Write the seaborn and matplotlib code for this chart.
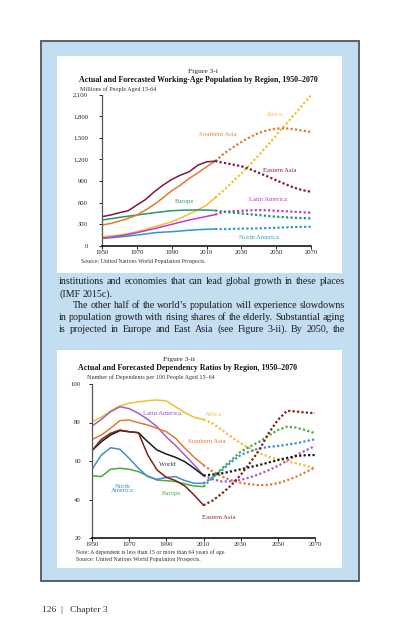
import numpy as np
import pandas as pd
import seaborn as sns
import matplotlib.pyplot as plt
from matplotlib.patches import Rectangle

W, H = 412, 640

# Figure 3-i: working-age population (millions, aged 15-64)
years_hist_1 = list(range(1950, 2016, 5))
years_proj_1 = list(range(2015, 2071, 5))
east_asia_hist_1 = [406, 430, 461, 489, 567, 645, 751, 843, 922, 982, 1028, 1120, 1166, 1177]
east_asia_proj_1 = [1177, 1152, 1130, 1106, 1065, 1014, 965, 912, 860, 811, 775, 751]
south_asia_hist_1 = [290, 313, 346, 383, 429, 498, 576, 668, 765, 843, 935, 1014, 1097, 1177]
south_asia_proj_1 = [1177, 1281, 1365, 1442, 1510, 1567, 1605, 1627, 1632, 1620, 1600, 1580]
africa_hist_1 = [129, 140, 152, 172, 198, 230, 267, 300, 336, 385, 442, 500, 567, 670]
africa_proj_1 = [670, 774, 890, 1005, 1130, 1258, 1395, 1534, 1672, 1811, 1950, 2088]
europe_hist_1 = [360, 378, 397, 413, 429, 445, 461, 475, 489, 495, 498, 500, 498, 492]
europe_proj_1 = [492, 475, 463, 452, 440, 429, 417, 406, 398, 392, 387, 383]
latam_hist_1 = [106, 122, 140, 160, 185, 212, 240, 270, 300, 330, 360, 385, 410, 435]
latam_proj_1 = [435, 475, 482, 488, 494, 498, 495, 488, 482, 475, 468, 461]
namer_hist_1 = [106, 115, 125, 138, 152, 167, 183, 192, 198, 208, 218, 226, 232, 235]
namer_proj_1 = [235, 235, 238, 240, 242, 244, 248, 253, 258, 262, 265, 267]
yticks_1 = [0, 300, 600, 900, 1200, 1500, 1800, 2100]
xticks = [1950, 1970, 1990, 2010, 2030, 2050, 2070]

# Figure 3-ii: dependents per 100 people aged 15-64
years_hist_2 = list(range(1950, 2011, 5))
years_proj_2 = list(range(2010, 2071, 5))
africa_hist_2 = [80.4, 82.7, 86.1, 88.6, 90.0, 90.7, 91.3, 91.7, 91.2, 88.2, 85.1, 82.7, 81.6]
africa_proj_2 = [81.6, 79.5, 76.1, 72.5, 69.2, 66.5, 64.0, 62.3, 60.9, 59.8, 58.8, 57.5, 56.2]
latam_hist_2 = [78.2, 81.6, 85.6, 88.2, 87.2, 84.8, 81.6, 77.8, 72.5, 68.0, 63.0, 58.0, 52.5]
latam_proj_2 = [52.5, 50.5, 49.3, 49.5, 50.1, 51.5, 53.2, 55.2, 57.4, 60.2, 63.1, 65.5, 67.8]
south_asia_hist_2 = [71.2, 73.5, 77.0, 81.0, 81.3, 79.9, 78.7, 77.0, 75.2, 71.8, 66.6, 61.9, 57.9]
south_asia_proj_2 = [57.9, 54.5, 51.9, 50.0, 48.7, 47.9, 47.4, 47.6, 48.4, 50.0, 51.9, 54.2, 56.7]
world_hist_2 = [65.4, 70.0, 73.5, 75.8, 75.2, 74.7, 70.0, 65.7, 63.6, 61.9, 59.6, 56.2, 52.5]
world_proj_2 = [52.5, 53.0, 53.6, 54.6, 55.7, 56.8, 57.9, 59.2, 60.5, 61.6, 62.6, 63.0, 63.1]
east_asia_hist_2 = [65.4, 71.2, 74.4, 76.1, 75.2, 74.7, 63.1, 55.3, 51.5, 49.8, 47.0, 42.3, 37.0]
east_asia_proj_2 = [37.0, 39.5, 43.2, 47.5, 52.7, 59.0, 65.7, 74.4, 81.3, 86.1, 85.7, 85.2, 84.8]
namer_hist_2 = [55.7, 63.1, 66.9, 66.1, 61.4, 56.2, 51.9, 50.5, 51.5, 51.9, 49.8, 48.4, 48.4]
namer_proj_2 = [48.4, 51.5, 55.3, 59.5, 63.1, 65.0, 66.6, 67.3, 67.8, 68.5, 69.2, 70.3, 71.3]
europe_hist_2 = [52.4, 51.9, 55.7, 56.2, 55.7, 54.5, 52.2, 50.1, 49.8, 49.3, 48.1, 47.0, 46.7]
europe_proj_2 = [46.7, 51.5, 56.2, 60.5, 64.8, 67.5, 70.0, 73.2, 76.1, 77.8, 77.3, 76.0, 74.4]
yticks_2 = [20, 40, 60, 80, 100]

paragraph = [
    "institutions and economies that can lead global growth in these places",
    "(IMF 2015c).",
    "The other half of the world\u2019s population will experience slowdowns",
    "in population growth with rising shares of the elderly. Substantial aging",
    "is projected in Europe and East Asia (see Figure 3-ii). By 2050, the",
]

sns.set_theme(style="ticks")
plt.rcParams['font.family'] = ['Liberation Serif', 'DejaVu Serif']

fig = plt.figure(figsize=(W / 100, H / 100), dpi=100)
fig.patch.set_facecolor('white')


def fx(px):
    return px / W


def fy(py):
    return 1 - py / H


def rect(x0, y0, x1, y1, **kw):
    fig.patches.append(Rectangle((fx(x0), fy(y1)), (x1 - x0) / W, (y1 - y0) / H,
                                 transform=fig.transFigure, figure=fig, zorder=-10, **kw))


def label(x, y, s, **kw):
    fig.text(fx(x), fy(y), s, ha='center', va='center', **kw)


def make_axes(x0, x1, y_top, y_bot):
    ax = fig.add_axes([fx(x0), fy(y_bot), (x1 - x0) / W, (y_bot - y_top) / H])
    ax.set_facecolor('none')
    return ax


def draw(ax, yh, vh, yp, vp, color):
    sns.lineplot(x=yh, y=vh, color=color, linewidth=1.1, ax=ax)
    sns.lineplot(x=yp, y=vp, color=color, linewidth=1.6,
                 linestyle=(0, (1, 1)), ax=ax)


def style_axes(ax, ylim, yticks, fmt, ypad):
    ax.set_xlim(1950, 2070)
    ax.set_ylim(*ylim)
    ax.set_xticks(xticks)
    ax.set_yticks(yticks)
    ax.set_yticklabels([fmt(v) for v in yticks])
    ax.set_xlabel('')
    ax.set_ylabel('')
    for s in ['top', 'right']:
        ax.spines[s].set_visible(False)
    ax.spines['left'].set_color('#555555')
    ax.spines['left'].set_linewidth(0.9)
    ax.spines['bottom'].set_color('black')
    ax.spines['bottom'].set_linewidth(1.1)
    ax.tick_params(axis='x', length=2, width=0.7, pad=1, labelsize=4.8, colors='#222222')
    ax.tick_params(axis='y', length=2, width=0.7, pad=ypad, labelsize=4.8, colors='#222222')
    ax.spines['bottom'].set_zorder(5)


# page frame
rect(41, 41, 359, 581, facecolor='#c4def1', edgecolor='#555555', linewidth=1.3)
rect(57, 56, 342, 273, facecolor='white', edgecolor='none')
rect(57, 350, 342, 568, facecolor='white', edgecolor='none')

# ---- Figure 3-i ----
label(203, 72, "Figure 3-i", fontsize=5.4, color='#222222')
label(198, 79.5, "Actual and Forecasted Working-Age Population by Region, 1950\u20132070",
      fontsize=5.7, fontweight='bold', color='#111111')
fig.text(fx(80), fy(89.5), "Millions of People Aged 15-64", fontsize=4.4,
         ha='left', va='center', color='#333333')

ax1 = make_axes(102, 311, 94.5, 246)
draw(ax1, years_hist_1, africa_hist_1, years_proj_1, africa_proj_1, '#f2c22a')
draw(ax1, years_hist_1, namer_hist_1, years_proj_1, namer_proj_1, '#2a9cc4')
draw(ax1, years_hist_1, latam_hist_1, years_proj_1, latam_proj_1, '#c13ad0')
draw(ax1, years_hist_1, europe_hist_1, years_proj_1, europe_proj_1, '#27946a')
draw(ax1, years_hist_1, south_asia_hist_1, years_proj_1, south_asia_proj_1, '#df7b2f')
draw(ax1, years_hist_1, east_asia_hist_1, years_proj_1, east_asia_proj_1, '#7d1a3f')
style_axes(ax1, (0, 2100), yticks_1, lambda v: f"{v:,}", 8)

label(275, 114, "Africa", fontsize=4.8, color='#f2c35e')
label(218, 134, "Southern Asia", fontsize=4.8, color='#e08a40')
label(280, 171, "Eastern Asia", fontsize=4.8, color='#8b1a4a')
label(184.5, 201, "Europe", fontsize=4.8, color='#2a9a6a')
label(268, 199.5, "Latin America", fontsize=4.8, color='#c040d0')
label(259, 237.5, "North America", fontsize=4.8, color='#30a0c8')

fig.text(fx(81), fy(261), "Source: United Nations World Population Prospects.",
         fontsize=4.2, ha='left', va='center', color='#333333')

# ---- body text (justified) ----
renderer = fig.canvas.get_renderer()
body_size = 7.2
line_y = [282, 293.8, 305.6, 317.4, 329.2]
for i, (txt, y) in enumerate(zip(paragraph, line_y)):
    words = txt.split(' ')
    indent = 14 if i == 2 else 0
    objs = [fig.text(0, fy(y), w, fontsize=body_size, ha='left', va='center', color='#1a1a1a')
            for w in words]
    widths = [o.get_window_extent(renderer).width for o in objs]
    if i == 1:
        gap = body_size * 0.25 * 100 / 72
    else:
        gap = (345 - 59 - indent - sum(widths)) / (len(words) - 1)
    x = 59 + indent
    for o, w in zip(objs, widths):
        o.set_x(fx(x))
        x += w + gap

# ---- Figure 3-ii ----
label(179, 359, "Figure 3-ii", fontsize=5.4, color='#222222')
label(188, 368, "Actual and Forecasted Dependency Ratios by Region, 1950\u20132070",
      fontsize=5.7, fontweight='bold', color='#111111')
fig.text(fx(87), fy(377), "Number of Dependents per 100 People Aged 15\u201364", fontsize=4.4,
         ha='left', va='center', color='#333333')

ax2 = make_axes(92, 315, 384, 538)
draw(ax2, years_hist_2, africa_hist_2, years_proj_2, africa_proj_2, '#f0c030')
draw(ax2, years_hist_2, latam_hist_2, years_proj_2, latam_proj_2, '#a65cc8')
draw(ax2, years_hist_2, south_asia_hist_2, years_proj_2, south_asia_proj_2, '#df7b35')
draw(ax2, years_hist_2, europe_hist_2, years_proj_2, europe_proj_2, '#4aaa3c')
draw(ax2, years_hist_2, namer_hist_2, years_proj_2, namer_proj_2, '#3f8fd0')
draw(ax2, years_hist_2, world_hist_2, years_proj_2, world_proj_2, '#1a1a1a')
draw(ax2, years_hist_2, east_asia_hist_2, years_proj_2, east_asia_proj_2, '#7a2418')
style_axes(ax2, (20, 100), yticks_2, lambda v: f"{v}", 6)

label(162.5, 413.5, "Latin America", fontsize=4.8, color='#a050c0')
label(213.5, 414, "Africa", fontsize=4.8, color='#f0c35e')
label(207, 441.5, "Southern Asia", fontsize=4.8, color='#df7b35')
label(167, 464.5, "World", fontsize=4.8, color='#333333')
label(122.5, 488.5, "North\nAmerica", fontsize=4.8, color='#3f8fd0', linespacing=1.0)
label(171, 493, "Europe", fontsize=4.8, color='#4aaa3c')
label(219, 517.5, "Eastern Asia", fontsize=4.8, color='#8a3020')

fig.text(fx(76), fy(552), "Note: A dependent is less than 15 or more than 64 years of age.",
         fontsize=4.2, ha='left', va='center', color='#333333')
fig.text(fx(76), fy(559), "Source: United Nations World Population Prospects.",
         fontsize=4.2, ha='left', va='center', color='#333333')

# footer
fig.text(fx(42), fy(610), "126  |   Chapter 3", fontsize=6.8, ha='left', va='center',
         color='#333333')

fig.savefig("out.png", dpi=100)
